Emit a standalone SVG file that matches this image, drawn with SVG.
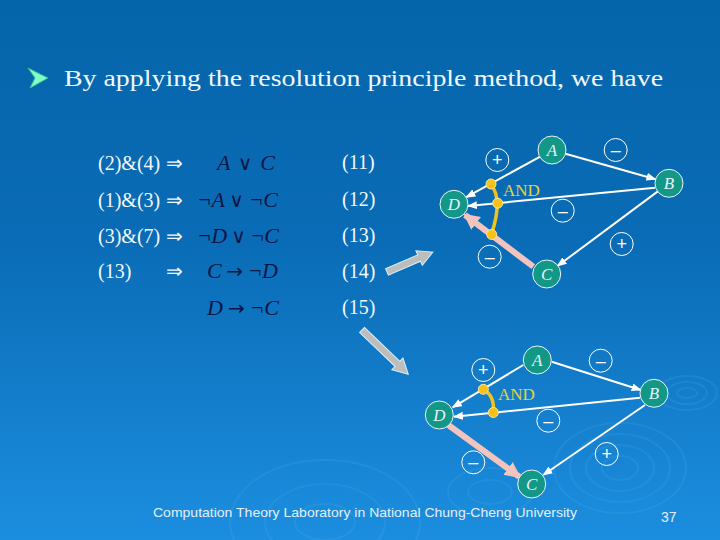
<svg xmlns="http://www.w3.org/2000/svg" width="720" height="540" viewBox="0 0 720 540">
<defs>
<linearGradient id="bg" x1="0" y1="0" x2="0" y2="1">
<stop offset="0" stop-color="#0565AA"/>
<stop offset="0.45" stop-color="#0A6CB6"/>
<stop offset="1" stop-color="#1C8EDF"/>
</linearGradient>
<marker id="wh" markerUnits="userSpaceOnUse" markerWidth="10" markerHeight="8" refX="9" refY="4" orient="auto">
<path d="M0,0 L10,4 L0,8 Z" fill="#FFFFFF"/>
</marker>
<marker id="pk" markerUnits="userSpaceOnUse" markerWidth="16" markerHeight="16" refX="14" refY="8" orient="auto">
<path d="M0,0 L16,8 L0,16 Z" fill="#F3C4BE"/>
</marker>
<style>
.t{font-family:"Liberation Serif","Times New Roman",serif;fill:#F2F8FF;font-size:20px}
.f{font-family:"Liberation Serif","Times New Roman",serif;font-style:italic;fill:#0A1548;font-size:22px}
.s{font-family:"DejaVu Sans",sans-serif;font-style:normal;font-size:20px}
.node circle{fill:#139786;stroke:#E8F4F8;stroke-width:1}
.node text{font-family:"Liberation Serif","Times New Roman",serif;font-style:italic;font-size:17px;fill:#E6F2FA;text-anchor:middle}
.sign circle{fill:none;stroke:#FFFFFF;stroke-width:1}
.sign text{font-family:"Liberation Sans",Arial,sans-serif;font-size:18px;fill:#FFFFFF;text-anchor:middle}
.edge{stroke:#FFFFFF;stroke-width:2;fill:none;marker-end:url(#wh)}
.pink{stroke:#F3C4BE;stroke-width:6;fill:none;marker-end:url(#pk)}
.arc{stroke:#EFC21E;stroke-width:3.5;fill:none}
.dot{fill:#F6C21A;stroke:#FBE79A;stroke-width:1}
.and{font-family:"Liberation Serif","Times New Roman",serif;font-size:17px;fill:#E6D23C}
.gray{fill:#BDBDBD;stroke:#D6F2FF;stroke-width:1}
.rip{fill:none;stroke:#6CC0F4;stroke-width:2;opacity:0.13}
</style>
</defs>
<rect x="0" y="0" width="720" height="540" fill="url(#bg)"/>
<g id="ripples">
<ellipse class="rip" cx="620" cy="468" rx="18" ry="12"/>
<ellipse class="rip" cx="620" cy="468" rx="34" ry="23"/>
<ellipse class="rip" cx="620" cy="468" rx="50" ry="34"/>
<ellipse class="rip" cx="620" cy="468" rx="66" ry="45"/>
<ellipse class="rip" cx="687" cy="393" rx="10" ry="5"/>
<ellipse class="rip" cx="687" cy="393" rx="20" ry="11"/>
<ellipse class="rip" cx="687" cy="393" rx="30" ry="17"/>
<ellipse class="rip" cx="325" cy="522" rx="30" ry="18"/>
<ellipse class="rip" cx="325" cy="522" rx="60" ry="38"/>
<ellipse class="rip" cx="325" cy="522" rx="95" ry="62"/>
<ellipse class="rip" cx="490" cy="492" rx="22" ry="12"/>
<ellipse class="rip" cx="490" cy="492" rx="42" ry="24"/>
</g>
<g id="title">
<polygon points="28,68 48,78 30,88 35,78" fill="#7FFFC8" stroke="#3FB890" stroke-width="1"/>
<text class="t" x="64" y="86" textLength="599" lengthAdjust="spacingAndGlyphs" style="font-size:23px">By applying the resolution principle method, we have</text>
</g>
<g id="derivations">
<text class="t" x="98" y="170">(2)&amp;(4)</text><text class="t" x="166" y="170">⇒</text>
<text class="t" x="98" y="207">(1)&amp;(3)</text><text class="t" x="166" y="207">⇒</text>
<text class="t" x="98" y="243">(3)&amp;(7)</text><text class="t" x="166" y="243">⇒</text>
<text class="t" x="98" y="278">(13)</text><text class="t" x="166" y="278">⇒</text>
<text class="f" x="217" y="170" textLength="58" lengthAdjust="spacing">A <tspan class="s">∨</tspan> C</text>
<text class="f" x="197" y="207" textLength="81" lengthAdjust="spacing">¬A <tspan class="s">∨</tspan> ¬C</text>
<text class="f" x="197" y="243" textLength="82" lengthAdjust="spacing">¬D <tspan class="s">∨</tspan> ¬C</text>
<text class="f" x="207" y="278" textLength="71" lengthAdjust="spacing">C <tspan class="s">→</tspan> ¬D</text>
<text class="f" x="207" y="315" textLength="72" lengthAdjust="spacing">D <tspan class="s">→</tspan> ¬C</text>
<text class="t" x="342" y="169">(11)</text>
<text class="t" x="342" y="206">(12)</text>
<text class="t" x="342" y="242">(13)</text>
<text class="t" x="342" y="278">(14)</text>
<text class="t" x="342" y="314">(15)</text>
</g>
<g id="connectors">
<path class="gray" d="M0,-3.5 L35,-3.5 L35,-8 L50,0 L35,8 L35,3.5 L0,3.5 Z" transform="translate(387,272) rotate(-23.5)"/>
<path class="gray" d="M0,-3.5 L49,-3.5 L49,-8 L64,0 L49,8 L49,3.5 L0,3.5 Z" transform="translate(362,330) rotate(43.7)"/>
<line class="edge" x1="539.7" y1="156.8" x2="466.3" y2="197.2"/>
<line class="edge" x1="565.5" y1="153.8" x2="655.5" y2="179.2"/>
<line class="edge" x1="655" y1="187.7" x2="468" y2="206"/>
<line class="edge" x1="657.8" y1="191.4" x2="557.5" y2="266"/>
<line class="pink" x1="533.3" y1="266.7" x2="465" y2="215"/>
<path class="arc" d="M491,184 Q503,200 491.5,234"/>
<circle class="dot" cx="491" cy="184" r="5"/>
<circle class="dot" cx="497.7" cy="203.2" r="5"/>
<circle class="dot" cx="491.7" cy="234.5" r="5"/>
<text class="and" x="503" y="196">AND</text>
<line class="edge" x1="523.3" y1="365" x2="452.7" y2="407.3"/>
<line class="edge" x1="551.7" y1="361.7" x2="640.7" y2="390"/>
<line class="edge" x1="640" y1="397.7" x2="454" y2="416.7"/>
<line class="edge" x1="645" y1="405" x2="543.3" y2="475"/>
<line class="pink" x1="448.3" y1="425" x2="519.3" y2="476.7"/>
<path class="arc" d="M483.3,389.3 Q495,396 493.3,412.5"/>
<circle class="dot" cx="483.3" cy="389.3" r="5"/>
<circle class="dot" cx="493.3" cy="412.5" r="5"/>
<text class="and" x="498" y="400">AND</text>
</g>
<g id="signs">
<g class="sign"><circle cx="497.3" cy="160" r="11.5"/><text x="497.3" y="166">+</text></g>
<g class="sign"><circle cx="615.7" cy="150" r="11.5"/><text x="615.7" y="156">–</text></g>
<g class="sign"><circle cx="562.7" cy="210.7" r="11.5"/><text x="562.7" y="216.7">–</text></g>
<g class="sign"><circle cx="489.7" cy="256.7" r="11.5"/><text x="489.7" y="262.7">–</text></g>
<g class="sign"><circle cx="621.7" cy="244" r="11.5"/><text x="621.7" y="250">+</text></g>
<g class="sign"><circle cx="483.3" cy="370" r="11.5"/><text x="483.3" y="376">+</text></g>
<g class="sign"><circle cx="600.7" cy="360.7" r="11.5"/><text x="600.7" y="366.7">–</text></g>
<g class="sign"><circle cx="548.3" cy="420.7" r="11.5"/><text x="548.3" y="426.7">–</text></g>
<g class="sign"><circle cx="473.3" cy="462.3" r="11.5"/><text x="473.3" y="468.3">–</text></g>
<g class="sign"><circle cx="606.7" cy="454" r="11.5"/><text x="606.7" y="460">+</text></g>
</g>
<g id="g1-A" class="node"><circle cx="552" cy="150" r="14"/><text x="552" y="156">A</text></g>
<g id="g1-B" class="node"><circle cx="669" cy="183.3" r="14"/><text x="669" y="189.3">B</text></g>
<g id="g1-D" class="node"><circle cx="454" cy="204.3" r="14"/><text x="454" y="210.3">D</text></g>
<g id="g1-C" class="node"><circle cx="546.7" cy="274" r="14"/><text x="546.7" y="280">C</text></g>
<g id="g2-A" class="node"><circle cx="537.3" cy="360" r="14"/><text x="537.3" y="366">A</text></g>
<g id="g2-B" class="node"><circle cx="654" cy="393.3" r="14"/><text x="654" y="399.3">B</text></g>
<g id="g2-D" class="node"><circle cx="439.3" cy="415" r="14"/><text x="439.3" y="421">D</text></g>
<g id="g2-C" class="node"><circle cx="531.7" cy="484" r="14"/><text x="531.7" y="490">C</text></g>
<g id="footer">
<text x="153" y="517" font-family="Liberation Sans, Arial, sans-serif" font-size="13" fill="#E4F0FA" textLength="424" lengthAdjust="spacingAndGlyphs">Computation Theory Laboratory in National Chung-Cheng University</text>
<text x="661" y="522" font-family="Liberation Sans, Arial, sans-serif" font-size="14" fill="#E4F0FA">37</text>
</g>
</svg>
